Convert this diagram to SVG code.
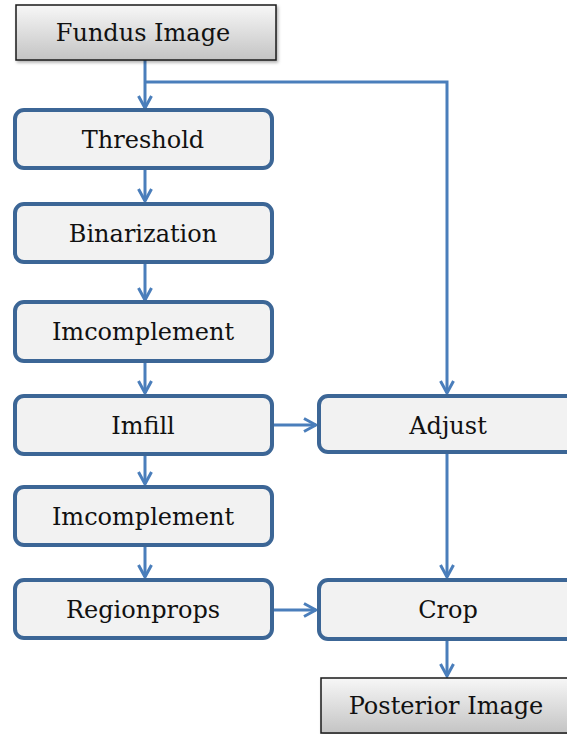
<svg xmlns="http://www.w3.org/2000/svg" width="567" height="734" viewBox="0 0 567 734">
<defs>
<linearGradient id="gray" x1="0" y1="0" x2="0" y2="1">
<stop offset="0" stop-color="#f7f7f7"/>
<stop offset="1" stop-color="#c4c4c4"/>
</linearGradient>
<marker id="arr" markerWidth="16" markerHeight="16" viewBox="0 0 16 16" refX="14" refY="8" orient="auto" markerUnits="userSpaceOnUse">
<path d="M2,1.5 L14,8 L2,14.5" fill="none" stroke="#4a7ebb" stroke-width="3"/>
</marker>
<filter id="sh" x="-10%" y="-10%" width="120%" height="130%">
<feDropShadow dx="1.5" dy="2" stdDeviation="1.5" flood-color="#000" flood-opacity="0.3"/>
</filter>
</defs>
<style>
.proc{fill:#f2f2f2;stroke:#3c6696;stroke-width:4}
.term{fill:url(#gray);stroke:#1a1a1a;stroke-width:1.5}
text{font-family:"DejaVu Serif","Liberation Serif",serif;font-size:24px;fill:#111;text-anchor:middle}
.c{fill:none;stroke:#4a7ebb;stroke-width:3}
</style>
<g id="connectors">
<path class="c" d="M145,60 V108" marker-end="url(#arr)"/>
<path class="c" d="M145,82 H447 V393" marker-end="url(#arr)"/>
<path class="c" d="M145,168 V201" marker-end="url(#arr)"/>
<path class="c" d="M145,263 V300" marker-end="url(#arr)"/>
<path class="c" d="M145,362 V393" marker-end="url(#arr)"/>
<path class="c" d="M145,455 V484" marker-end="url(#arr)"/>
<path class="c" d="M145,545 V577" marker-end="url(#arr)"/>
<path class="c" d="M272,425 H316" marker-end="url(#arr)"/>
<path class="c" d="M272,610 H316" marker-end="url(#arr)"/>
<path class="c" d="M447,452 V577" marker-end="url(#arr)"/>
<path class="c" d="M447,640 V676" marker-end="url(#arr)"/>
</g>
<g id="fundus">
<rect class="term" x="16" y="5" width="260" height="55" filter="url(#sh)"/>
<text x="143" y="41">Fundus Image</text>
</g>
<g id="threshold">
<rect class="proc" x="15" y="110" width="257" height="58" rx="9"/>
<text x="143" y="148">Threshold</text>
</g>
<g id="binarization">
<rect class="proc" x="15" y="204" width="257" height="58" rx="9"/>
<text x="143" y="242">Binarization</text>
</g>
<g id="imcomplement1">
<rect class="proc" x="15" y="302" width="257" height="59" rx="9"/>
<text x="143" y="340">Imcomplement</text>
</g>
<g id="imfill">
<rect class="proc" x="15" y="396" width="257" height="58" rx="9"/>
<text x="143" y="434">Imfill</text>
</g>
<g id="imcomplement2">
<rect class="proc" x="15" y="487" width="257" height="58" rx="9"/>
<text x="143" y="525">Imcomplement</text>
</g>
<g id="regionprops">
<rect class="proc" x="15" y="580" width="257" height="58" rx="9"/>
<text x="143" y="618">Regionprops</text>
</g>
<g id="adjust">
<rect class="proc" x="319" y="396" width="258" height="56" rx="9"/>
<text x="448" y="434">Adjust</text>
</g>
<g id="crop">
<rect class="proc" x="319" y="580" width="258" height="59" rx="9"/>
<text x="448" y="618">Crop</text>
</g>
<g id="posterior">
<rect class="term" x="321" y="678" width="260" height="55" filter="url(#sh)"/>
<text x="446" y="714">Posterior Image</text>
</g>
</svg>
